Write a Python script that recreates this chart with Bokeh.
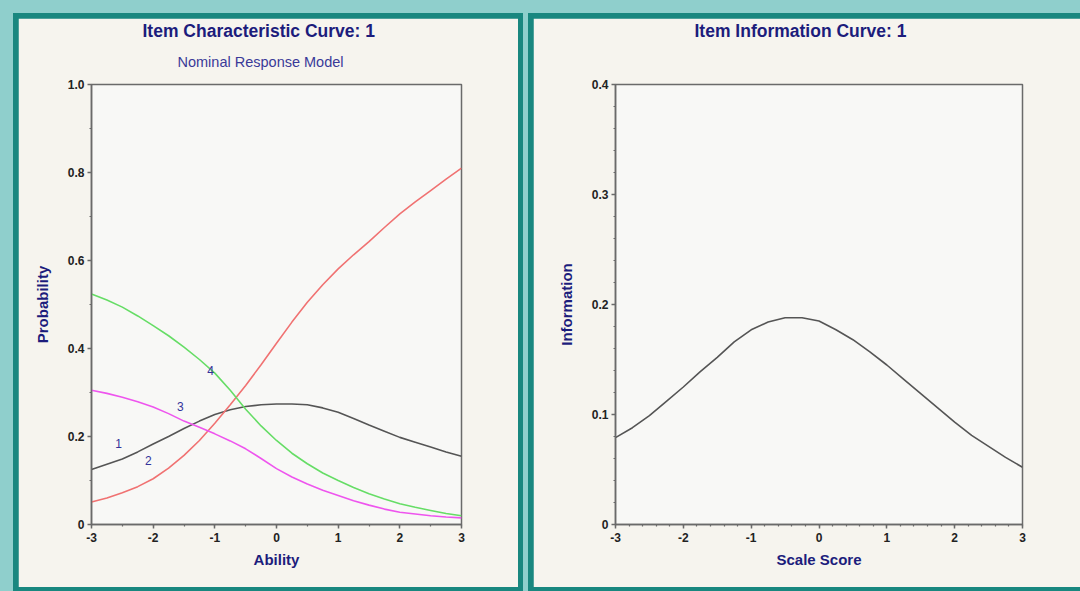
from bokeh.plotting import figure
from bokeh.models import FixedTicker, Title, ColumnDataSource
from bokeh.layouts import row, column
from bokeh.core.properties import value
from bokeh.embed import file_html
from bokeh.resources import INLINE

# ---------------- data ----------------
ability = [-3, -2.75, -2.5, -2.25, -2, -1.75, -1.5, -1.25, -1, -0.75, -0.5, -0.25,
           0, 0.25, 0.5, 0.75, 1, 1.25, 1.5, 1.75, 2, 2.25, 2.5, 2.75, 3]
cat1 = [0.125, 0.137, 0.149, 0.165, 0.183, 0.200, 0.218, 0.235, 0.250, 0.261, 0.268, 0.272,
        0.274, 0.274, 0.272, 0.265, 0.255, 0.241, 0.226, 0.212, 0.198, 0.187, 0.176, 0.165, 0.155]
cat2 = [0.051, 0.060, 0.072, 0.086, 0.104, 0.128, 0.157, 0.191, 0.230, 0.272, 0.316, 0.363,
        0.412, 0.460, 0.505, 0.545, 0.581, 0.613, 0.643, 0.675, 0.706, 0.733, 0.759, 0.785, 0.810]
cat3 = [0.305, 0.298, 0.289, 0.279, 0.267, 0.252, 0.235, 0.221, 0.206, 0.190, 0.172, 0.150,
        0.127, 0.108, 0.092, 0.078, 0.066, 0.054, 0.044, 0.035, 0.028, 0.024, 0.020, 0.017, 0.015]
cat4 = [0.524, 0.510, 0.494, 0.474, 0.452, 0.429, 0.403, 0.375, 0.344, 0.305, 0.262, 0.224,
        0.191, 0.162, 0.138, 0.117, 0.100, 0.084, 0.070, 0.058, 0.047, 0.039, 0.032, 0.025, 0.020]

scale_score = [-3, -2.75, -2.5, -2.25, -2, -1.75, -1.5, -1.25, -1, -0.75, -0.5, -0.25,
               0, 0.25, 0.5, 0.75, 1, 1.25, 1.5, 1.75, 2, 2.25, 2.5, 2.75, 3]
information = [0.079, 0.088, 0.099, 0.112, 0.125, 0.139, 0.152, 0.166, 0.177, 0.184, 0.188, 0.188,
               0.185, 0.177, 0.168, 0.157, 0.145, 0.132, 0.119, 0.106, 0.093, 0.081, 0.071, 0.061, 0.052]

curve_names = ["1", "2", "3", "4"]
curve_label_x = [-2.56, -2.08, -1.56, -1.07]
curve_label_y = [0.184, 0.145, 0.268, 0.350]

x_ticks = [-3, -2, -1, 0, 1, 2, 3]
x_tick_labels = ["-3", "-2", "-1", "0", "1", "2", "3"]
icc_y_ticks = [0, 0.2, 0.4, 0.6, 0.8, 1.0]
icc_y_labels = ["0", "0.2", "0.4", "0.6", "0.8", "1.0"]
iic_y_ticks = [0, 0.1, 0.2, 0.3, 0.4]
iic_y_labels = ["0", "0.1", "0.2", "0.3", "0.4"]

# ---------------- style ----------------
LIGHT = "#8fcfcc"
DARK = "#19877f"
PANEL = "#f6f4ee"
FRAME = "#f8f8f6"
AXIS = "#6a6a6a"
NAVY = "#1c1c7c"
FONT = "Liberation Sans"


def style_axes(p):
    p.grid.visible = False
    p.background_fill_color = FRAME
    p.border_fill_color = PANEL
    p.outline_line_color = AXIS
    p.outline_line_width = 1.5
    p.xaxis.major_label_overrides = dict(zip(x_ticks, x_tick_labels))
    for ax in (p.xaxis[0], p.yaxis[0]):
        ax.axis_line_color = AXIS
        ax.axis_line_width = 1.5
        ax.major_tick_line_color = AXIS
        ax.minor_tick_line_color = AXIS
        ax.major_tick_line_width = 1.5
        ax.minor_tick_line_width = 1.2
        ax.major_tick_in = 0
        ax.major_tick_out = 4
        ax.minor_tick_in = 0
        ax.minor_tick_out = 2
        ax.major_label_text_font = FONT
        ax.major_label_text_font_style = "bold"
        ax.major_label_text_font_size = "12px"
        ax.major_label_text_color = "#222222"
        ax.major_label_standoff = 3
        ax.axis_label_text_font = FONT
        ax.axis_label_text_font_style = "bold"
        ax.axis_label_text_font_size = "15px"
        ax.axis_label_text_color = NAVY
    p.xaxis.major_label_standoff = 4
    p.xaxis.axis_label_standoff = 6
    p.yaxis.axis_label_standoff = 14


def add_titles(p, main, main_offset, sub=None, sub_offset=0):
    if sub is not None:
        p.add_layout(Title(text=sub, align="left", offset=sub_offset,
                           vertical_align="top",
                           text_font=FONT, text_font_style="normal",
                           text_font_size="14.5px", text_color="#3a3a98",
                           standoff=26), "above")
    else:
        # empty spacer keeps the title at the same height as the left one
        p.add_layout(Title(text=" ", text_font_size="2px", standoff=40), "above")
    p.add_layout(Title(text=main, align="left", offset=main_offset,
                       text_font=FONT, text_font_style="bold",
                       text_font_size="17.5px", text_color=NAVY,
                       standoff=0), "above")


# ---------------- ICC ----------------
p1 = figure(width=500, height=569, x_range=(-3, 3), y_range=(0, 1),
            output_backend="svg", toolbar_location=None,
            min_border_left=73, min_border_right=57,
            min_border_top=66, min_border_bottom=63)
style_axes(p1)
p1.xaxis.ticker = FixedTicker(ticks=x_ticks,
                              minor_ticks=[-3 + 0.5 * i for i in range(13)])
p1.yaxis.ticker = FixedTicker(ticks=icc_y_ticks,
                              minor_ticks=[round(0.1 * i, 1) for i in range(11)])
p1.yaxis.major_label_overrides = dict(zip(icc_y_ticks, icc_y_labels))
p1.xaxis.axis_label = "Ability"
p1.yaxis.axis_label = "Probability"

p1.line(ability, cat1, line_color="#555555", line_width=1.6)
p1.line(ability, cat2, line_color="#f07272", line_width=1.6)
p1.line(ability, cat3, line_color="#ee55ee", line_width=1.6)
p1.line(ability, cat4, line_color="#66dd66", line_width=1.6)

lab_src = ColumnDataSource(dict(x=curve_label_x, y=curve_label_y, t=curve_names))
p1.text(x="x", y="y", text="t", source=lab_src, text_align="center",
        text_baseline="middle", text_font=value(FONT), text_font_size="12px",
        text_color="#33339a")

add_titles(p1, "Item Characteristic Curve: 1", 51, "Nominal Response Model", 86)

# ---------------- IIC ----------------
p2 = figure(width=547, height=569, x_range=(-3, 3), y_range=(0, 0.4),
            output_backend="svg", toolbar_location=None,
            min_border_left=82, min_border_right=58,
            min_border_top=66, min_border_bottom=63)
style_axes(p2)
p2.xaxis.ticker = FixedTicker(ticks=x_ticks,
                              minor_ticks=[round(-3 + 0.2 * i, 1) for i in range(31)])
p2.yaxis.ticker = FixedTicker(ticks=iic_y_ticks,
                              minor_ticks=[round(0.02 * i, 2) for i in range(21)])
p2.yaxis.major_label_overrides = dict(zip(iic_y_ticks, iic_y_labels))
p2.xaxis.axis_label = "Scale Score"
p2.yaxis.axis_label = "Information"

p2.line(scale_score, information, line_color="#555555", line_width=1.6)

add_titles(p2, "Item Information Curve: 1", 79)

left_box = column(p1, styles={"background-color": DARK, "padding": "5px 5px 4px 5px"})
right_box = column(p2, styles={"background-color": DARK, "padding": "5px 0px 4px 5px"})
layout = row(left_box, right_box, spacing=5,
             styles={"background-color": LIGHT, "padding": "13px 0px 0px 13px"})

open("out.html", "w").write(file_html(layout, INLINE))
